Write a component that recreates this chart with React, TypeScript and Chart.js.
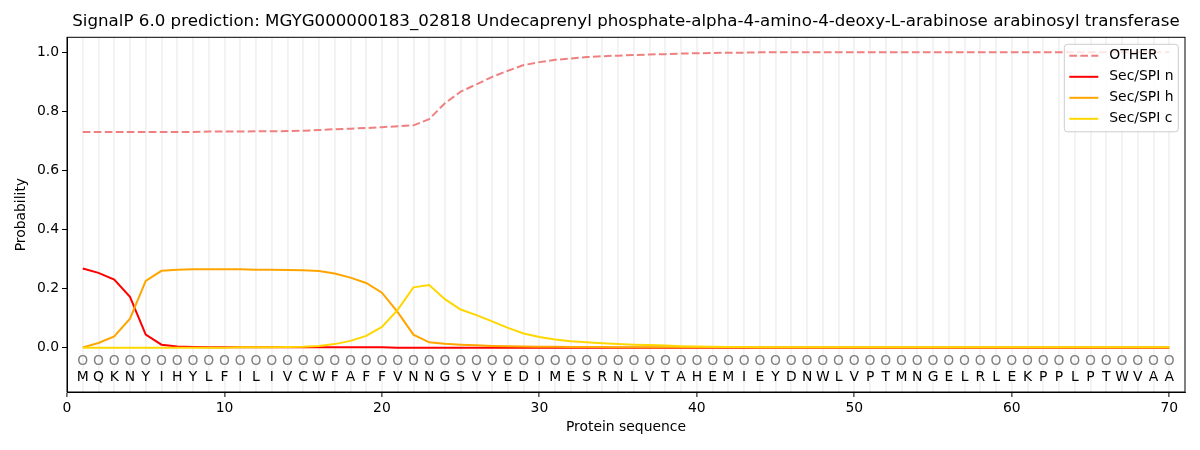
import { useEffect, useRef } from 'react'
import Chart from 'chart.js/auto'

const title =
  'SignalP 6.0 prediction: MGYG000000183_02818 Undecaprenyl phosphate-alpha-4-amino-4-deoxy-L-arabinose arabinosyl transferase'

const sequence = 'MQKNYIHYLFILIVCWFAFFVNNGSVYEDIMESRNLVTAHEMIEYDNWLVPTMNGELRLEKPPLPTWVAA'.split('')
const positions = sequence.map((_, i) => i + 1)

const other = [
  0.730, 0.730, 0.730, 0.730, 0.730, 0.730, 0.730, 0.730, 0.731, 0.731,
  0.731, 0.732, 0.732, 0.733, 0.734, 0.736, 0.739, 0.741, 0.743, 0.746,
  0.749, 0.752, 0.773, 0.827, 0.866, 0.891, 0.916, 0.937, 0.956, 0.966,
  0.974, 0.978, 0.983, 0.986, 0.988, 0.990, 0.992, 0.993, 0.995, 0.996,
  0.997, 0.998, 0.998, 0.999, 0.999, 0.999, 0.999, 0.999, 0.999, 0.999,
  0.999, 0.999, 0.999, 0.999, 0.999, 0.999, 0.999, 0.999, 0.999, 0.999,
  0.999, 0.999, 0.999, 0.999, 0.999, 0.999, 0.999, 0.999, 0.999, 0.999,
]

const secN = [
  0.268, 0.253, 0.230, 0.172, 0.044, 0.010, 0.004, 0.002, 0.001, 0.001,
  0.001, 0.001, 0.001, 0.001, 0.001, 0.001, 0.001, 0.001, 0.001, 0.001,
  0, 0, 0, 0, 0, 0, 0, 0, 0, 0,
  0, 0, 0, 0, 0, 0, 0, 0, 0, 0,
  0, 0, 0, 0, 0, 0, 0, 0, 0, 0,
  0, 0, 0, 0, 0, 0, 0, 0, 0, 0,
  0, 0, 0, 0, 0, 0, 0, 0, 0, 0,
]

const secH = [
  0.001, 0.016, 0.038, 0.098, 0.226, 0.260, 0.264, 0.265, 0.265, 0.265,
  0.265, 0.264, 0.264, 0.263, 0.262, 0.259, 0.251, 0.237, 0.219, 0.186,
  0.120, 0.044, 0.018, 0.013, 0.010, 0.008, 0.006, 0.005, 0.004, 0.003,
  0.003, 0.002, 0.002, 0.002, 0.001, 0.001, 0.001, 0.001, 0.001, 0.001,
  0.001, 0.001, 0.001, 0.001, 0.001, 0.001, 0.001, 0.001, 0.001, 0.001,
  0.001, 0.001, 0.001, 0.001, 0.001, 0.001, 0.001, 0.001, 0.001, 0.001,
  0.001, 0.001, 0.001, 0.001, 0.001, 0.001, 0.001, 0.001, 0.001, 0.001,
]

const secC = [
  0, 0, 0, 0, 0, 0, 0, 0, 0, 0,
  0.001, 0.001, 0.001, 0.002, 0.003, 0.006, 0.012, 0.023, 0.040, 0.070,
  0.128, 0.204, 0.212, 0.164, 0.129, 0.110, 0.089, 0.067, 0.048, 0.036,
  0.028, 0.022, 0.018, 0.015, 0.012, 0.010, 0.009, 0.007, 0.005, 0.004,
  0.003, 0.002, 0.002, 0.001, 0.001, 0.001, 0.001, 0.001, 0.001, 0.001,
  0.001, 0.001, 0.001, 0.001, 0.001, 0.001, 0.001, 0.001, 0.001, 0.001,
  0.001, 0.001, 0.001, 0.001, 0.001, 0.001, 0.001, 0.001, 0.001, 0.001,
]

const yTicks = [0, 0.2, 0.4, 0.6, 0.8, 1.0]
const FONT = "'DejaVu Sans', sans-serif"

const toPoints = (vals: number[]) => vals.map((y, i) => ({ x: positions[i], y }))

// title over the axes, frame, residue rows and the matplotlib-style legend
const extras = {
  id: 'extras',
  afterDatasetsDraw(chart: any) {
    const { ctx, chartArea, scales } = chart
    const xs = scales.x
    const ys = scales.y
    ctx.save()

    ctx.font = `16.67px ${FONT}`
    ctx.fillStyle = '#000'
    ctx.textAlign = 'center'
    ctx.textBaseline = 'middle'
    ctx.fillText(title, (chartArea.left + chartArea.right) / 2, 22)

    ctx.font = `13.9px ${FONT}`
    sequence.forEach((aa, i) => {
      const px = xs.getPixelForValue(positions[i])
      ctx.fillStyle = '#808080'
      ctx.fillText('O', px, ys.getPixelForValue(-0.046))
      ctx.fillStyle = '#000'
      ctx.fillText(aa, px, ys.getPixelForValue(-0.1))
    })

    // legend
    const bw = 114
    const bh = 87.5
    const bx = chartArea.right - 6.7 - bw
    const by = chartArea.top + 7
    ctx.beginPath()
    ctx.roundRect(bx, by, bw, bh, 3)
    ctx.fillStyle = 'rgba(255,255,255,0.8)'
    ctx.fill()
    ctx.strokeStyle = '#cccccc'
    ctx.lineWidth = 1
    ctx.stroke()
    ctx.textAlign = 'left'
    chart.data.datasets.forEach((ds: any, i: number) => {
      const ly = by + 11.5 + i * 21
      ctx.beginPath()
      ctx.strokeStyle = ds.borderColor
      ctx.lineWidth = 2
      ctx.setLineDash(ds.borderDash || [])
      ctx.moveTo(bx + 5, ly)
      ctx.lineTo(bx + 34, ly)
      ctx.stroke()
      ctx.setLineDash([])
      ctx.fillStyle = '#000'
      ctx.fillText(ds.label, bx + 45, ly)
    })

    ctx.strokeStyle = '#000'
    ctx.lineWidth = 1
    ctx.strokeRect(chartArea.left, chartArea.top, chartArea.right - chartArea.left, chartArea.bottom - chartArea.top)
    ctx.restore()
  },
}

export default function App() {
  const canvasRef = useRef<HTMLCanvasElement | null>(null)

  useEffect(() => {
    if (!canvasRef.current) return
    document.body.style.margin = '0'

    const chart = new Chart(canvasRef.current, {
      type: 'line',
      data: {
        datasets: [
          {
            label: 'OTHER',
            data: toPoints(other),
            borderColor: '#f08080',
            borderDash: [7.7, 3.3],
            borderWidth: 2,
            order: 4,
          },
          { label: 'Sec/SPI n', data: toPoints(secN), borderColor: '#ff0000', borderWidth: 2, order: 3 },
          { label: 'Sec/SPI h', data: toPoints(secH), borderColor: '#ffa500', borderWidth: 2, order: 2 },
          { label: 'Sec/SPI c', data: toPoints(secC), borderColor: '#ffd700', borderWidth: 2, order: 1 },
        ],
      },
      options: {
        responsive: false,
        animation: false,
        parsing: false as any,
        elements: { point: { radius: 0 }, line: { tension: 0, fill: false } },
        layout: { padding: { left: 0, right: 15, top: 37.3, bottom: 0 } },
        plugins: {
          legend: { display: false },
          tooltip: { enabled: false },
          title: { display: false },
        },
        scales: {
          x: {
            type: 'linear',
            min: 0,
            max: 71,
            afterBuildTicks: (scale: any) => {
              scale.ticks = Array.from({ length: 72 }, (_, i) => ({ value: i }))
            },
            afterFit: (scale: any) => {
              scale.height = 58
            },
            ticks: {
              autoSkip: false,
              maxRotation: 0,
              color: '#000',
              padding: 3,
              font: { family: FONT, size: 13.9 },
              callback: (v: any) => (Number(v) % 10 === 0 ? String(v) : ''),
            },
            grid: {
              color: (c: any) => (c.tick && c.tick.value >= 1 && c.tick.value <= 70 ? '#f2f2f2' : 'rgba(0,0,0,0)'),
              lineWidth: 1.8,
              tickColor: (c: any) => (c.tick && c.tick.value % 10 === 0 ? '#000' : 'rgba(0,0,0,0)'),
              tickLength: 5,
              tickWidth: 1,
            },
            border: { display: true, color: '#000', width: 1 },
            title: {
              display: true,
              text: 'Protein sequence',
              color: '#000',
              font: { family: FONT, size: 13.9 },
              padding: { top: 0, bottom: 14.7 },
            },
          },
          y: {
            type: 'linear',
            min: -0.15,
            max: 1.05,
            afterBuildTicks: (scale: any) => {
              scale.ticks = yTicks.map((value) => ({ value }))
            },
            afterFit: (scale: any) => {
              scale.width = 67
            },
            ticks: {
              color: '#000',
              padding: 3,
              font: { family: FONT, size: 13.9 },
              callback: (v: any) => Number(v).toFixed(1),
            },
            grid: {
              drawOnChartArea: false,
              drawTicks: true,
              tickLength: 5,
              tickColor: '#000',
            },
            border: { display: true, color: '#000', width: 1 },
            title: {
              display: true,
              text: 'Probability',
              color: '#000',
              font: { family: FONT, size: 13.9 },
              padding: { top: 13.4, bottom: 0 },
            },
          },
        },
      },
      plugins: [extras],
    })

    return () => {
      chart.destroy()
    }
  }, [])

  return (
    <div style={{ width: 1200, height: 450, background: '#fff' }}>
      <canvas ref={canvasRef} width={1200} height={450} style={{ display: 'block' }} />
    </div>
  )
}
